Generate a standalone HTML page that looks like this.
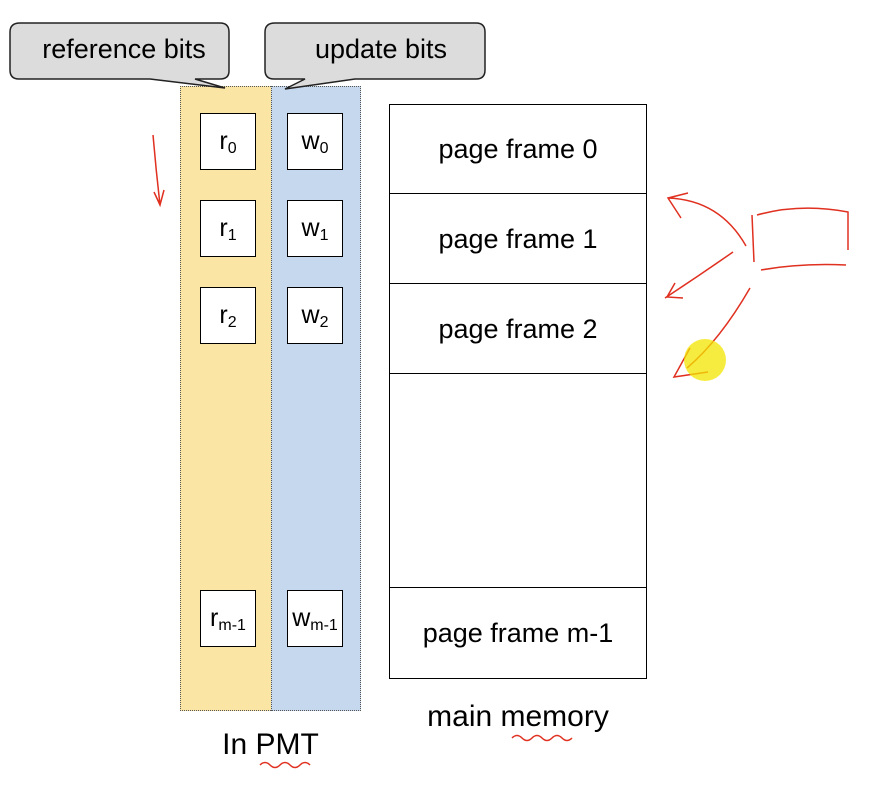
<!DOCTYPE html>
<html><head><style>
body{margin:0;width:888px;height:788px;background:#fff;position:relative;font-family:"Liberation Sans",sans-serif;overflow:hidden}
.a{position:absolute}
.cell{position:absolute;width:56px;height:57px;border:1.5px solid #000;background:#fff;font-size:25px;text-align:center;line-height:55px;box-sizing:border-box}
.cell sub{font-size:16px;vertical-align:-4px}
.pf{position:absolute;left:389px;width:258px;border:1.5px solid #000;box-sizing:border-box;font-size:27px;display:flex;align-items:center;justify-content:center;background:#fff}
</style></head><body>
<div class="a" style="left:180px;top:86px;width:91px;height:625px;background:#fbe5a5"></div>
<div class="a" style="left:271px;top:86px;width:90px;height:625px;background:#c5d8ee"></div>
<div class="a" style="left:180px;top:86px;width:181px;height:625px;border:1px dotted #555;box-sizing:border-box"></div>
<div class="a" style="left:271px;top:86px;height:625px;border-left:1px dotted #555"></div>
<svg class="a" style="left:0;top:0" width="888" height="788">
<path d="M20,23 H220 Q229,23 229,32 V71 Q229,79 220,79 H195 L225,88 L150,79 H19 Q10,79 10,70 V32 Q10,23 20,23 Z" fill="#dcdcdc" stroke="#222" stroke-width="1.5"/>
<path d="M275,23 H476 Q485,23 485,32 V70 Q485,79 476,79 H355 L285,89 L305,79 H274 Q265,79 265,70 V32 Q265,23 275,23 Z" fill="#dcdcdc" stroke="#222" stroke-width="1.5"/>
<g fill="none" stroke="#e03020" stroke-width="1.5">
<path d="M153,135 Q156,170 160,205 M154,192 L160,205 L164,190"/>
<path d="M746,246 Q720,200 668,198 M688,193 L668,198 L681,218"/>
<path d="M733,252 Q700,275 665,298 M675,283 L667,297 L683,298"/>
<path d="M752,215 L754,262 M757,215 Q800,203 848,212 L848,250 M761,270 Q800,263 846,265"/>
<path d="M750,288 Q720,340 687,368 M690,348 L674,377 L708,372"/>
</g>
<circle cx="705" cy="360" r="21" fill="#f3e600" opacity="0.75"/>
<path d="M512,738 q5,-5 10,0 t10,0 t10,0 t10,0 t10,0 t10,0" fill="none" stroke="#e03020" stroke-width="1.5"/>
<path d="M260,765 q5,-5 10,0 t10,0 t10,0 t10,0 t10,0" fill="none" stroke="#e03020" stroke-width="1.5"/>
</svg>
<div class="a" style="left:10px;top:34px;width:228px;text-align:center;font-size:27px">reference bits</div>
<div class="a" style="left:265px;top:34px;width:232px;text-align:center;font-size:27px">update bits</div>
<div class="cell" style="left:200px;top:113px">r<sub>0</sub></div>
<div class="cell" style="left:287px;top:113px">w<sub>0</sub></div>
<div class="cell" style="left:200px;top:200px">r<sub>1</sub></div>
<div class="cell" style="left:287px;top:200px">w<sub>1</sub></div>
<div class="cell" style="left:200px;top:287px">r<sub>2</sub></div>
<div class="cell" style="left:287px;top:287px">w<sub>2</sub></div>
<div class="cell" style="left:200px;top:590px">r<sub>m-1</sub></div>
<div class="cell" style="left:287px;top:590px">w<sub>m-1</sub></div>
<div class="pf" style="top:104px;height:91px">page frame 0</div>
<div class="pf" style="top:193px;height:92px">page frame 1</div>
<div class="pf" style="top:283px;height:92px">page frame 2</div>
<div class="pf" style="top:373px;height:216px"></div>
<div class="pf" style="top:587px;height:92px">page frame m-1</div>
<div class="a" style="left:389px;top:700px;width:258px;text-align:center;font-size:30px">main memory</div>
<div class="a" style="left:180px;top:728px;width:181px;text-align:center;font-size:30px">In PMT</div>
</body></html>
